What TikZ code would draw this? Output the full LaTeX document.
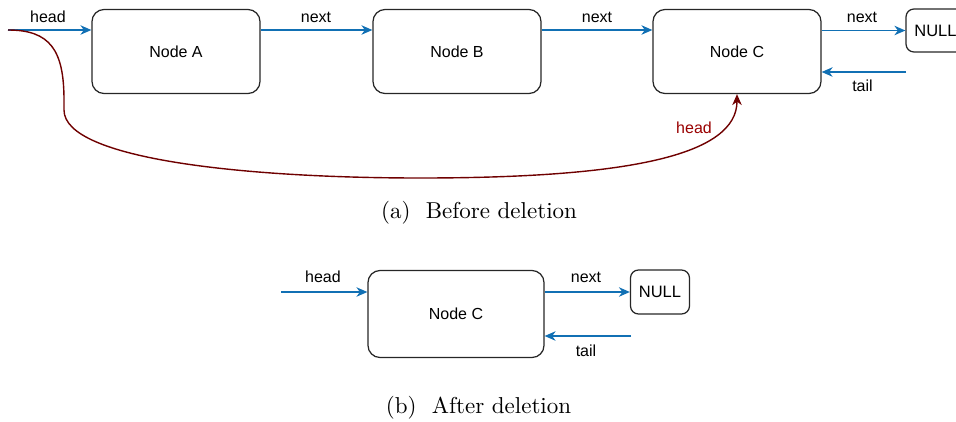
\documentclass[tikz,border=0pt]{standalone}
\usepackage{fontspec}
\newfontfamily\labelfont{Liberation Sans}
\usetikzlibrary{arrows.meta,calc}
\definecolor{linkblue}{HTML}{1170B4}
\definecolor{headred}{HTML}{6F0000}
\definecolor{headtext}{HTML}{990000}
\newcommand{\subcaptext}[1]{\scalebox{2.3}{\fontsize{10}{12}\selectfont #1}}
\begin{document}
\begin{tikzpicture}[x=1pt,y=-1pt,
  listnode/.style={draw=black!85,line width=1.25pt,rounded corners=12pt,
    minimum width=168pt,minimum height=84pt,inner sep=0pt,
    font=\labelfont\fontsize{16}{19}\selectfont},
  nullnode/.style={draw=black!85,line width=1.25pt,rounded corners=8pt,
    minimum width=59pt,minimum height=43pt,inner sep=0pt,
    font=\labelfont\fontsize{16.5}{19}\selectfont},
  link/.style={draw=linkblue,line width=1.4pt,
    -{Stealth[length=11pt,width=9.5pt,inset=3.5pt]}},
  redlink/.style={draw=headred,line width=1.4pt,
    -{Stealth[length=11pt,width=9.5pt,inset=3.5pt]}},
  lbl/.style={font=\labelfont\fontsize{16}{19}\selectfont,inner sep=0pt},
  subcap/.style={inner sep=0pt}]
\useasboundingbox (0,0) rectangle (956,421);
\clip (0,0) rectangle (956,421);

% (a) list before deleting the two leading nodes
\node[listnode] (A) at (176,51.5) {Node A};
\node[listnode] (B) at (457,51.5) {Node B};
\node[listnode] (C) at (737,51.5) {Node C};
\node[nullnode] (N) at (935.5,30.5) {NULL};
\coordinate (hs) at (8,30);
\coordinate (ts) at (906,72);

\draw[link] (hs) -- ([yshift=21.5pt]A.west);
\draw[link] ([yshift=21.5pt]A.east) -- ([yshift=21.5pt]B.west);
\draw[link] ([yshift=21.5pt]B.east) -- ([yshift=21.5pt]C.west);
\draw[link] ([yshift=21pt]C.east) -- (N.west);
\draw[link] (ts) -- ([yshift=-20.5pt]C.east);

\node[lbl] (lh) at (48,17) {head};
\node[lbl] (ln1) at (316,17) {next};
\node[lbl] (ln2) at (597,17) {next};
\node[lbl] (ln3) at (862,17) {next};
\node[lbl] (lt) at (862.5,86) {tail};

% new head pointer moved to Node C
\draw[redlink] (hs) .. controls (50,30) and (64,50) .. (64,100)
  -- (64,110) .. controls (64,160) and (250,178) .. (420,178)
  .. controls (630,178) and (737,155) .. (C.south);
\node[lbl,text=headtext] (lr) at (694,128) {head};

\node[subcap] (capa) at (479,213) {\subcaptext{(a)\ \ Before deletion}};

% (b) list after deletion
\node[listnode,minimum width=176pt,minimum height=87pt] (C2) at (456,314) {Node C};
\node[nullnode,minimum height=44pt] (N2) at (660,292) {NULL};
\coordinate (hs2) at (281,292);
\coordinate (ts2) at (631,336);

\draw[link] (hs2) -- ([yshift=22pt]C2.west);
\draw[link] ([yshift=22pt]C2.east) -- (N2.west);
\draw[link] (ts2) -- ([yshift=-22pt]C2.east);

\node[lbl] (lh2) at (323,277) {head};
\node[lbl] (ln4) at (586,277) {next};
\node[lbl] (lt2) at (586,351) {tail};

\node[subcap] (capb) at (478.5,408) {\subcaptext{(b)\ \ After deletion}};
\end{tikzpicture}
\end{document}
